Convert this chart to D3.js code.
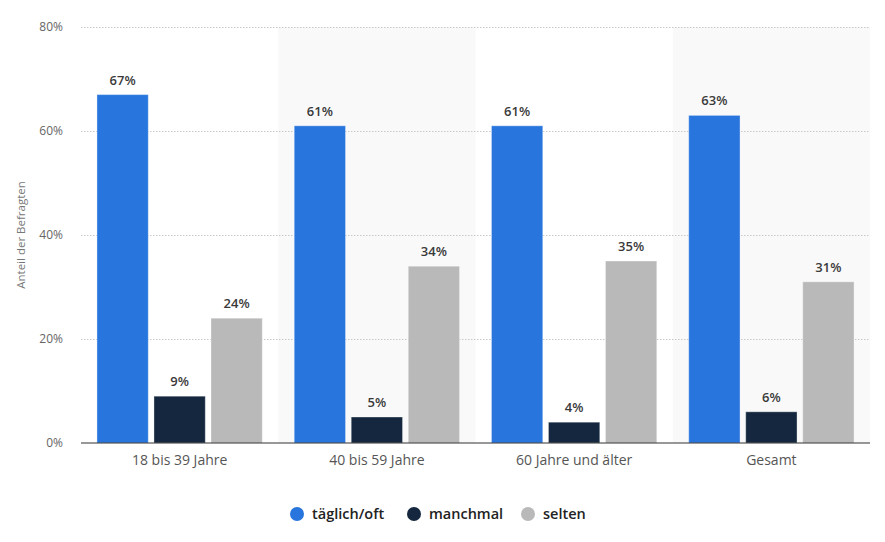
<!DOCTYPE html>
<html><head><meta charset="utf-8">
<script src="https://cdn.jsdelivr.net/npm/d3@7"></script>
<style>body{margin:0;background:#fff;font-family:"Open Sans",sans-serif;}</style>
</head><body><svg id="c" width="885" height="542"></svg>
<script>
const categories = ["18 bis 39 Jahre","40 bis 59 Jahre","60 Jahre und älter","Gesamt"];
const seriesNames = ["täglich/oft","manchmal","selten"];
const taeglich = [67,61,61,63];
const manchmal = [9,5,4,6];
const selten = [24,34,35,31];
const yTicks = [0,20,40,60,80];
const colors = ["#2876dd","#14273e","#b9b9b9"];
const series = [taeglich, manchmal, selten];

const svg = d3.select("#c");
const m = {l:81, r:870, t:27, b:443};
const x0 = d3.scaleBand().domain(categories).range([m.l, m.r]).paddingInner(0).paddingOuter(0);
const x1 = d3.scaleBand().domain(seriesNames).range([0, x0.bandwidth()]).paddingInner(0.1).paddingOuter(0.28);
const y = d3.scaleLinear().domain([0,80]).range([m.b, m.t]);

// shaded bands
svg.append("g").selectAll("rect").data(categories.filter((d,i)=>i%2===1)).join("rect")
  .attr("x", d=>x0(d)).attr("y", m.t).attr("width", x0.bandwidth()).attr("height", m.b-m.t)
  .attr("fill","#f9f9f9");

// grid
const yAxis = d3.axisLeft(y).tickValues(yTicks).tickFormat(d=>d+"%").tickSize(-(m.r-m.l)).tickPadding(18);
const ga = svg.append("g").attr("transform",`translate(${m.l},0)`).call(yAxis);
ga.select(".domain").remove();
ga.selectAll(".tick line").attr("stroke","#c8c8c8").attr("stroke-dasharray","1.5,1.5");
ga.selectAll(".tick text").attr("fill","#666").style("font-size","12px").style("font-family","Open Sans");
ga.selectAll(".tick").filter(d=>d===0).select("line").remove();

// bars
const groups = svg.append("g").selectAll("g").data(categories).join("g")
  .attr("transform", d=>`translate(${x0(d)},0)`);
groups.selectAll("rect").data((d,i)=>seriesNames.map((s,j)=>({s, v:series[j][i], j}))).join("rect")
  .attr("x", d=>x1(d.s)).attr("y", d=>y(d.v)).attr("width", x1.bandwidth()).attr("height", d=>m.b-y(d.v))
  .attr("fill", d=>colors[d.j]).attr("stroke","rgba(255,255,255,0.35)").attr("stroke-width",1);
groups.selectAll("text").data((d,i)=>seriesNames.map((s,j)=>({s, v:series[j][i], j}))).join("text")
  .attr("x", d=>x1(d.s)+x1.bandwidth()/2).attr("y", d=>y(d.v)-10)
  .attr("text-anchor","middle").attr("fill","#3a3a3a").style("font-size","13px").style("font-weight","600")
  .style("font-family","Open Sans").text(d=>d.v+"%");

// baseline
svg.append("line").attr("x1",m.l).attr("x2",m.r).attr("y1",m.b).attr("y2",m.b).attr("stroke","#333").attr("stroke-width",1.2);

// x labels
const xa = svg.append("g").attr("transform",`translate(0,${m.b})`).call(d3.axisBottom(x0).tickSize(0).tickPadding(12));
xa.select(".domain").remove();
xa.selectAll("text").attr("fill","#555").style("font-size","14px").style("font-family","Open Sans");

// y title
svg.append("text").attr("transform","translate(25,235) rotate(-90)").attr("text-anchor","middle")
  .attr("fill","#777").style("font-size","11.5px").style("font-family","Open Sans").text("Anteil der Befragten");

// legend
const legX = [297, 414, 528];
const leg = svg.append("g").selectAll("g").data(seriesNames).join("g")
  .attr("transform",(d,i)=>`translate(${legX[i]},514)`);
leg.append("circle").attr("r",7).attr("fill",(d,i)=>colors[i]);
leg.append("text").attr("x",15).attr("y",5).attr("fill","#222").style("font-size","14.5px").style("font-weight","600")
  .style("font-family","Open Sans").text(d=>d);
</script></body></html>
